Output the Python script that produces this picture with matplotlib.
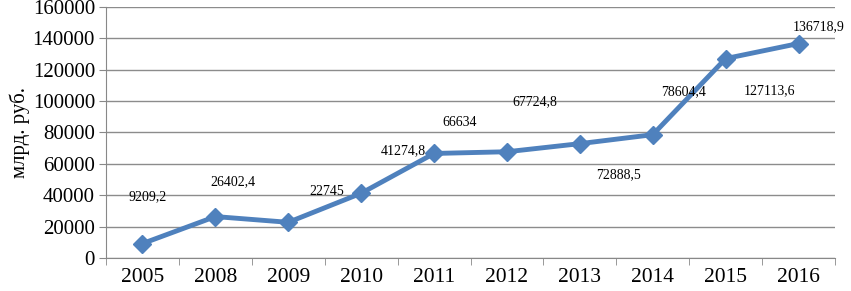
#!/usr/bin/env python3

import matplotlib
matplotlib.use("Agg")
import matplotlib.pyplot as plt
import numpy as np

years = ["2005", "2008", "2009", "2010", "2011", "2012", "2013", "2014", "2015", "2016"]
values = [9209.2, 26402.4, 22745, 41274.8, 66634, 67724.8, 72888.5, 78604.4, 127113.6, 136718.9]
labels = ["9209,2", "26402,4", "22745", "41274,8", "66634", "67724,8", "72888,5", "78604,4", "127113,6", "136718,9"]
# label offsets (pixels) as placed in the original chart
label_dx = [5, 18, 38, 42, 26, 28, 39, 31, 44, 20]
label_dy = [47, 35, 31, 43, 31, 50, -31, 43, -32, 17]

plt.rcParams["font.family"] = ["Liberation Serif", "DejaVu Serif"]

fig = plt.figure(figsize=(8.51, 2.91), dpi=100)
ax = fig.add_axes([0.1246, 0.1134, 0.8566, 0.8626])

x = np.arange(len(years))
ax.plot(x, values, color="#4F81BD", linewidth=3.5, marker="D", markersize=9,
        markeredgecolor="#4F81BD", zorder=3)

for xi, v, lab, dx, dy in zip(x, values, labels, label_dx, label_dy):
    ax.annotate(lab, (xi, v), xytext=(dx, dy), textcoords="offset pixels",
                ha="center", va="center", fontsize=10)

ax.set_xlim(-0.5, len(years) - 0.5)
ax.set_ylim(0, 160000)
ax.set_yticks(np.arange(0, 160001, 20000))
ax.set_xticks(x)
ax.set_xticklabels(years)
ax.set_xticks(np.arange(-0.5, len(years), 1), minor=True)
ax.tick_params(axis="x", which="major", length=0, labelsize=15.5, pad=7)
ax.tick_params(axis="x", which="minor", length=5, color="#888888")
ax.tick_params(axis="y", length=5, color="#888888", labelsize=15, pad=3)

ax.grid(axis="y", color="#8c8c8c", linewidth=1)
ax.set_axisbelow(True)
for side in ["top", "right"]:
    ax.spines[side].set_visible(False)
for side in ["left", "bottom"]:
    ax.spines[side].set_color("#888888")

ax.set_ylabel("млрд. руб.", fontsize=15, labelpad=2)

fig.savefig("out.png", dpi=100)
